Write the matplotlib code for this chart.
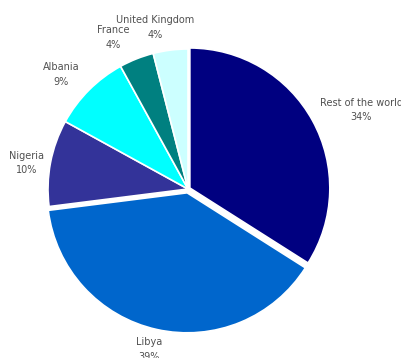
import matplotlib.pyplot as plt
import numpy as np

countries = ['Rest of the world', 'Libya', 'Nigeria', 'Albania', 'France', 'United Kingdom']
shares = [34, 39, 10, 9, 4, 4]
colors = ['#000080', '#0066CC', '#333399', '#00FFFF', '#008080', '#CCFFFF']
explode = [0.015, 0.028, 0, 0, 0, 0]
# label distance from centre (in radii) and turn from the slice's mid angle (deg)
label_dist = [1.36, 1.18, 1.17, 1.22, 1.21, 1.18]
label_turn = [-4.3, -1.1, 1.7, 2.8, 4.7, 4.3]

fig = plt.figure(figsize=(4.01, 3.58), dpi=100)
ax = fig.add_axes([0, 0, 1, 1])

wedges, _ = ax.pie(shares, colors=colors, explode=explode, startangle=90,
                   counterclock=False, radius=1.0,
                   wedgeprops={'edgecolor': 'white', 'linewidth': 1.2})

for w, name, val, d, t in zip(wedges, countries, shares, label_dist, label_turn):
    ang = np.deg2rad((w.theta1 + w.theta2) / 2 + t)
    ax.text(d * np.cos(ang), d * np.sin(ang), f'{name}\n{val}%',
            ha='center', va='center', fontsize=7, color='#505050',
            linespacing=1.6)

# pie centre at about (188, 189) px, radius 140 px
r = 140.0
ax.set_aspect('auto')
ax.set_xlim(-188 / r, (401 - 188) / r)
ax.set_ylim(-(358 - 189) / r, 189 / r)
ax.axis('off')

fig.savefig('out.png', dpi=100)
